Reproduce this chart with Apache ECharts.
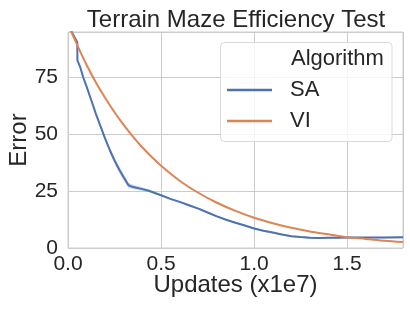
<!DOCTYPE html>
<html>
<head>
<meta charset="utf-8">
<script src="https://cdn.jsdelivr.net/npm/echarts@6/dist/echarts.min.js"></script>
<style>html,body{margin:0;padding:0;background:#fff;}#c{width:410px;height:312px;}</style>
</head>
<body>
<div id="c"></div>
<script>
var saX = [0, 0.05, 0.0505, 0.065, 0.082, 0.1, 0.125, 0.15, 0.175, 0.2, 0.225, 0.25, 0.275, 0.3, 0.325, 0.35, 0.4, 0.43, 0.5, 0.55, 0.6, 0.65, 0.7, 0.71, 0.75, 0.8, 0.85, 0.9, 0.95, 1.0, 1.05, 1.1, 1.15, 1.2, 1.25, 1.3, 1.35, 1.4, 1.45, 1.5, 1.6, 1.7, 1.8];
var saY = [98, 90.5, 82.5, 79.7, 75, 71, 65, 59, 53.5, 48, 43, 38.5, 34.5, 31, 27.6, 26.8, 25.9, 25.3, 23.2, 21.6, 20.3, 18.8, 17.3, 17.2, 15.6, 13.9, 12.4, 11.1, 9.9, 8.6, 7.6, 6.8, 5.9, 5.2, 4.8, 4.5, 4.4, 4.5, 4.5, 4.6, 4.6, 4.6, 4.7];
var saBand = [0.3, 0.3, 0.3, 0.5, 0.5, 0.6, 0.6, 0.7, 0.7, 0.8, 1.0, 1.2, 1.4, 1.4, 1.2, 1.0, 0.8, 0.6, 0.4, 0.4, 0.4, 0.4, 0.4, 0.4, 0.4, 0.4, 0.4, 0.4, 0.4, 0.4, 0.4, 0.4, 0.4, 0.4, 0.4, 0.4, 0.4, 0.4, 0.4, 0.4, 0.4, 0.4, 0.4];
var viX = [0, 0.05, 0.1, 0.15, 0.2, 0.25, 0.3, 0.35, 0.4, 0.45, 0.5, 0.6, 0.7, 0.8, 0.9, 1.0, 1.1, 1.2, 1.3, 1.4, 1.5, 1.6, 1.7, 1.8];
var viY = [98.3, 89.2, 80.5, 72.8, 66, 59.7, 54, 48.9, 44.2, 40, 36.2, 29.6, 24.3, 19.9, 16.3, 13.3, 10.9, 8.9, 7.3, 6.0, 4.7, 4.0, 3.2, 2.6];
var xTicks = [0, 0.5, 1.0, 1.5];
var yTicks = [0, 25, 50, 75];
var seriesNames = ['SA', 'VI'];
var legendTitle = 'Algorithm';
var chartTitle = 'Terrain Maze Efficiency Test';
var xName = 'Updates (x1e7)';
var yName = 'Error';

var colors = ['#4c72b0', '#dd8452'];
var txt = '#262626';
var font = 'Liberation Sans, Arial, sans-serif';

function pairs(xs, ys) { return xs.map(function (x, i) { return [x, ys[i]]; }); }

var chart = echarts.init(document.getElementById('c'), null, {renderer: 'canvas'});
chart.setOption({
  animation: false,
  backgroundColor: '#ffffff',
  title: {
    text: chartTitle, left: 231, top: 3, textAlign: 'center',
    textStyle: {fontFamily: font, fontSize: 24, fontWeight: 'normal', color: txt}
  },
  grid: {left: 68, right: 7, top: 32, bottom: 64, show: true, borderColor: '#cccccc', borderWidth: 1,
         containLabel: false, outerBoundsMode: 'none'},
  xAxis: {
    type: 'value', min: 0, max: 1.8, interval: 0.5,
    name: xName, nameLocation: 'middle', nameGap: 25, nameMoveOverlap: false,
    nameTextStyle: {fontFamily: font, fontSize: 24, color: txt, verticalAlign: 'top'},
    axisLine: {show: false}, axisTick: {show: false},
    splitLine: {show: true, lineStyle: {color: '#cccccc', width: 1}},
    axisLabel: {
      fontFamily: font, fontSize: 21, color: txt, margin: 6, showMaxLabel: false,
      formatter: function (v) { return xTicks.indexOf(Math.round(v * 100) / 100) >= 0 ? v.toFixed(1) : ''; }
    }
  },
  yAxis: {
    type: 'value', min: 0, max: 95, interval: 25,
    name: yName, nameLocation: 'middle', nameGap: 37, nameRotate: 90, nameMoveOverlap: false,
    nameTextStyle: {fontFamily: font, fontSize: 24, color: txt},
    axisLine: {show: false}, axisTick: {show: false},
    splitLine: {show: true, lineStyle: {color: '#cccccc', width: 1}},
    axisLabel: {
      fontFamily: font, fontSize: 21, color: txt, margin: 10, showMaxLabel: false,
      formatter: function (v) { return yTicks.indexOf(v) >= 0 ? String(v) : ''; }
    }
  },
  legend: {
    orient: 'vertical', left: 221, top: 43,
    padding: [35, 10, 9, 6], itemGap: 7,
    itemWidth: 45, itemHeight: 2.5,
    data: seriesNames.map(function (n) { return {name: n, icon: 'rect'}; }),
    textStyle: {fontFamily: font, fontSize: 22, color: txt, lineHeight: 24, padding: [0, 0, 0, 13]}
  },
  graphic: [
    {type: 'rect', z: 3, shape: {x: 220.5, y: 42.5, width: 171.5, height: 99, r: 4},
     style: {fill: 'rgba(255,255,255,0.8)', stroke: '#d9d9d9', lineWidth: 1}},
    {type: 'text', z: 5, left: 291, top: 48,
     style: {text: legendTitle, font: '22px ' + font, fill: txt}}
  ],
  series: [
    {
      type: 'custom', name: 'SA band', silent: true, z: 1,
      data: [0],
      renderItem: function (params, api) {
        var up = [], lo = [];
        for (var i = 0; i < saX.length; i++) {
          up.push(api.coord([saX[i], saY[i] + saBand[i]]));
          lo.unshift(api.coord([saX[i], saY[i] - saBand[i]]));
        }
        return {type: 'polygon', shape: {points: up.concat(lo)},
                style: {fill: 'rgba(76,114,176,0.25)'}};
      },
      clip: true
    },
    {
      type: 'line', name: seriesNames[0], data: pairs(saX, saY), showSymbol: false, symbol: 'none',
      color: colors[0], lineStyle: {width: 2, color: colors[0]}, clip: true, z: 2
    },
    {
      type: 'line', name: seriesNames[1], data: pairs(viX, viY), showSymbol: false, symbol: 'none', smooth: 0.3,
      color: colors[1], lineStyle: {width: 2, color: colors[1]}, clip: true, z: 2
    }
  ]
});
</script>
</body>
</html>
